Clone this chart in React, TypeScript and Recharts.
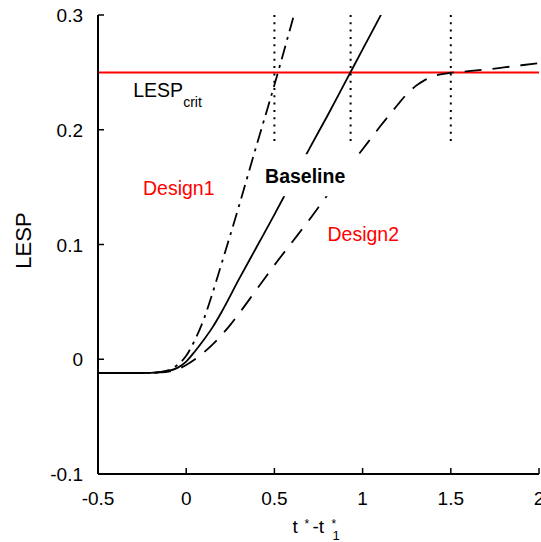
import { LineChart, Line, XAxis, YAxis, ReferenceLine, ReferenceDot, Label } from "recharts";

const FONT = "'Liberation Sans', Arial, Helvetica, sans-serif";

// axis ticks
const xTicks = [-0.5, 0, 0.5, 1, 1.5, 2];
const yTicks = [-0.1, 0, 0.1, 0.2, 0.3];

// critical LESP level
const lespCrit = 0.25;

// time samples (t* - t*_1) and LESP values
const baselineT = [-0.5, -0.3, -0.2, -0.15, -0.1, -0.05, 0, 0.05, 0.1, 0.15, 0.2, 0.3, 0.4, 0.5, 0.6, 0.7, 0.8, 0.9, 1.0, 1.1, 1.12];
const baselineLesp = [-0.012, -0.012, -0.0118, -0.0113, -0.0102, -0.0075, -0.002, 0.007, 0.017, 0.028, 0.041, 0.07, 0.098, 0.126, 0.155, 0.184, 0.212, 0.241, 0.27, 0.299, 0.305];

const design1T = [-0.5, -0.3, -0.2, -0.15, -0.1, -0.05, 0, 0.05, 0.1, 0.15, 0.2, 0.3, 0.4, 0.5, 0.6, 0.62];
const design1Lesp = [-0.012, -0.012, -0.0118, -0.0112, -0.0095, -0.005, 0.003, 0.017, 0.035, 0.058, 0.083, 0.134, 0.187, 0.239, 0.294, 0.305];

const design2T = [-0.5, -0.3, -0.2, -0.15, -0.1, -0.05, 0, 0.05, 0.1, 0.15, 0.2, 0.25, 0.3, 0.4, 0.5, 0.6, 0.7, 0.8, 0.9, 1.0, 1.1, 1.2, 1.25, 1.3, 1.35, 1.4, 1.45, 1.5, 1.6, 1.7, 1.8, 1.9, 2.0];
const design2Lesp = [-0.012, -0.012, -0.0119, -0.0115, -0.0107, -0.0088, -0.005, 0.0, 0.006, 0.013, 0.021, 0.03, 0.04, 0.061, 0.082, 0.102, 0.122, 0.143, 0.163, 0.183, 0.203, 0.222, 0.231, 0.238, 0.243, 0.2465, 0.2485, 0.2497, 0.251, 0.2525, 0.2543, 0.2562, 0.258];

// times where each curve reaches LESP_crit (dotted markers)
const markerTimes = [0.5, 0.932, 1.5];
const markerSpan = [0.3, 0.19];

// text annotations (data coords)
const annotations = [
  { name: "Design1", t: -0.245, v: 0.1432, color: "#ff0000", bold: false, boxed: false },
  { name: "Baseline", t: 0.447, v: 0.1534, color: "#000000", bold: true, boxed: true },
  { name: "Design2", t: 0.801, v: 0.1034, color: "#ff0000", bold: false, boxed: false },
];
const critLabelPos = { t: -0.3, v: 0.2287 };

const toPoints = (ts: number[], vs: number[]) => ts.map((t, i) => ({ t, v: vs[i] }));

const BottomTick = (props: any) => {
  const { x, y, payload } = props;
  return (
    <g>
      <line x1={x} y1={y} x2={x} y2={y - 6} stroke="#000" strokeWidth={1.5} />
      <text x={x} y={y + 31} textAnchor="middle" fontSize={19} fontFamily={FONT} fill="#000">
        {payload.value}
      </text>
    </g>
  );
};

const TopTick = (props: any) => {
  const { x, y } = props;
  return <line x1={x} y1={y} x2={x} y2={y + 6} stroke="#000" strokeWidth={1.5} />;
};

const LeftTick = (props: any) => {
  const { x, y, payload } = props;
  return (
    <g>
      <line x1={x} y1={y} x2={x + 6} y2={y} stroke="#000" strokeWidth={1.5} />
      <text x={x - 15} y={y + 7} textAnchor="end" fontSize={19} fontFamily={FONT} fill="#000">
        {payload.value}
      </text>
    </g>
  );
};

const RightTick = (props: any) => {
  const { x, y } = props;
  return <line x1={x} y1={y} x2={x - 6} y2={y} stroke="#000" strokeWidth={1.5} />;
};

export default function App() {
  const axisLine = { stroke: "#000", strokeWidth: 2 };
  return (
    <div style={{ position: "absolute", left: 0, top: 0, background: "#fff" }}>
      <LineChart width={541} height={542} margin={{ top: 15, right: 2, left: 0, bottom: 0 }}>
        <XAxis
          dataKey="t"
          type="number"
          domain={[-0.5, 2]}
          ticks={xTicks}
          interval={0}
          allowDataOverflow
          height={68}
          tickSize={0}
          tickMargin={0}
          tickLine={false}
          axisLine={axisLine}
          tick={BottomTick}
        >
          <Label
            content={(p: any) => {
              const vb = p.viewBox;
              const cx = vb.x + vb.width / 2;
              const by = vb.y + 59;
              return (
                <text fontFamily={FONT} fill="#000">
                  <tspan x={cx - 26} y={by} fontSize={19}>t</tspan>
                  <tspan x={cx - 14} y={by - 5} fontSize={12}>*</tspan>
                  <tspan x={cx - 6} y={by} fontSize={19}>-t</tspan>
                  <tspan x={cx + 13} y={by - 5} fontSize={12}>*</tspan>
                  <tspan x={cx + 14} y={by + 7} fontSize={13}>1</tspan>
                </text>
              );
            }}
          />
        </XAxis>
        <XAxis
          xAxisId="top"
          orientation="top"
          dataKey="t"
          type="number"
          domain={[-0.5, 2]}
          ticks={xTicks}
          interval={0}
          allowDataOverflow
          height={0}
          tickSize={0}
          tickMargin={0}
          tickLine={false}
          axisLine={axisLine}
          tick={TopTick}
        />
        <YAxis
          type="number"
          domain={[-0.1, 0.3]}
          ticks={yTicks}
          interval={0}
          allowDataOverflow
          width={98}
          tickSize={0}
          tickMargin={0}
          tickLine={false}
          axisLine={axisLine}
          tick={LeftTick}
        >
          <Label
            content={(p: any) => {
              const vb = p.viewBox;
              const x = vb.x + 31;
              const y = vb.y + vb.height / 2 - 4;
              return (
                <text
                  x={x}
                  y={y}
                  transform={`rotate(-90 ${x} ${y})`}
                  textAnchor="middle"
                  fontSize={22}
                  fontFamily={FONT}
                  fill="#000"
                >
                  LESP
                </text>
              );
            }}
          />
        </YAxis>
        <YAxis
          yAxisId="right"
          orientation="right"
          type="number"
          domain={[-0.1, 0.3]}
          ticks={yTicks}
          interval={0}
          allowDataOverflow
          width={0}
          tickSize={0}
          tickMargin={0}
          tickLine={false}
          axisLine={axisLine}
          tick={RightTick}
        />

        <ReferenceLine y={lespCrit} stroke="#ff0000" strokeWidth={2} />

        {markerTimes.map((t) => (
          <Line
            key={`m${t}`}
            data={markerSpan.map((v) => ({ t, v }))}
            dataKey="v"
            type="linear"
            stroke="#000"
            strokeWidth={2}
            strokeDasharray="2 5.3"
            dot={false}
            isAnimationActive={false}
          />
        ))}

        <Line
          data={toPoints(design1T, design1Lesp)}
          dataKey="v"
          type="monotone"
          stroke="#000"
          strokeWidth={1.8}
          strokeDasharray="14 6 3 6"
          dot={false}
          isAnimationActive={false}
        />
        <Line
          data={toPoints(baselineT, baselineLesp)}
          dataKey="v"
          type="monotone"
          stroke="#000"
          strokeWidth={1.8}
          dot={false}
          isAnimationActive={false}
        />
        <Line
          data={toPoints(design2T, design2Lesp)}
          dataKey="v"
          type="monotone"
          stroke="#000"
          strokeWidth={1.8}
          strokeDasharray="17 11"
          dot={false}
          isAnimationActive={false}
        />

        <ReferenceDot
          x={critLabelPos.t}
          y={critLabelPos.v}
          r={1}
          fill="none"
          stroke="none"
          label={(p: any) => {
            const x = p.viewBox.x + 1;
            const y = p.viewBox.y + 1;
            return (
              <text x={x} y={y} fontFamily={FONT} fill="#000">
                <tspan fontSize={19.5}>LESP</tspan>
                <tspan fontSize={14} dy={10}>crit</tspan>
              </text>
            );
          }}
        />
        {annotations.map((a) => (
          <ReferenceDot
            key={a.name}
            x={a.t}
            y={a.v}
            r={1}
            fill="none"
            stroke="none"
            label={(p: any) => {
              const x = p.viewBox.x + 1;
              const y = p.viewBox.y + 1;
              return (
                <g>
                  {a.boxed && <rect x={x - 3} y={y - 29} width={96} height={42} fill="#fff" />}
                  <text
                    x={x}
                    y={y}
                    fontSize={19.5}
                    fontWeight={a.bold ? "bold" : "normal"}
                    fontFamily={FONT}
                    fill={a.color}
                  >
                    {a.name}
                  </text>
                </g>
              );
            }}
          />
        ))}
      </LineChart>
    </div>
  );
}
